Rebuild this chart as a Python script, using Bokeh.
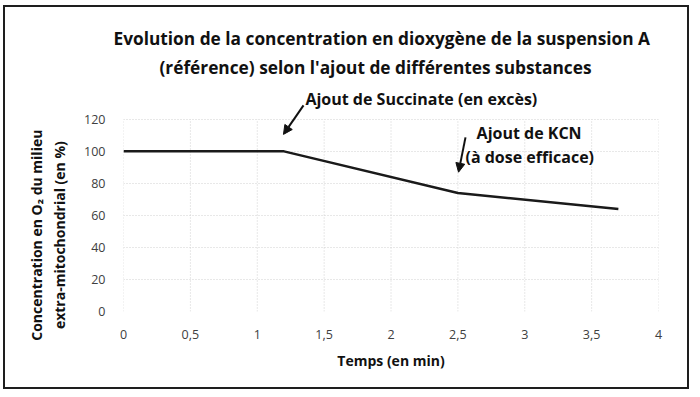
from bokeh.plotting import figure
from bokeh.models import Label, Arrow, NormalHead, FixedTicker, Range1d, Title
from bokeh.embed import file_html
from bokeh.resources import INLINE

# Data
temps = [0, 1.2, 2.5, 3.7]
concentration = [100, 100, 74, 64]
x_ticks = [0, 0.5, 1, 1.5, 2, 2.5, 3, 3.5, 4]
x_tick_labels = ["0", "0,5", "1", "1,5", "2", "2,5", "3", "3,5", "4"]
y_ticks = [0, 20, 40, 60, 80, 100, 120]
title_lines = ["Evolution de la concentration en dioxygène de la suspension A",
               "(référence) selon l'ajout de différentes substances"]
annot_succ = "Ajout de Succinate (en excès)"
annot_kcn = ["Ajout de KCN", "(à dose efficace)"]

FONT = "Open Sans"
NB = "\u00a0"
INK = "#111111"

p = figure(width=686, height=384, output_backend="svg", toolbar_location=None,
           x_range=Range1d(0, 4), y_range=Range1d(0, 143),
           min_border_left=118, min_border_right=33, min_border_top=75,
           min_border_bottom=80)
p.styles = {"border": "2px solid #1e1e1e", "margin-left": "3px", "margin-top": "5px"}
p.outline_line_color = None
p.background_fill_color = "white"
p.border_fill_color = "white"

p.xaxis.ticker = FixedTicker(ticks=x_ticks)
p.yaxis.ticker = FixedTicker(ticks=y_ticks)
p.xaxis.major_label_overrides = {t: l for t, l in zip(x_ticks, x_tick_labels)}
for ax in (p.xaxis, p.yaxis):
    ax.axis_line_color = None
    ax.major_tick_line_color = None
    ax.minor_tick_line_color = None
    ax.major_label_text_font = FONT
    ax.major_label_text_font_size = "12.5px"
    ax.major_label_text_color = "#404040"
    ax.axis_label_text_font = FONT
    ax.axis_label_text_font_style = "bold"
    ax.axis_label_text_font_size = "14px"
    ax.axis_label_text_color = INK
p.xaxis.major_label_standoff = 12
p.yaxis.major_label_standoff = 12
p.xaxis.axis_label = "Temps (en min)"
p.xaxis.axis_label_standoff = 9
p.yaxis.axis_label = ("Concentration en O\u2082 du milieu" + NB * 21 + "\n"
                      + "extra-mitochondrial (en %)" + NB * 21)
p.yaxis.axis_label_standoff = 12

# grid: horizontal from y ticks, vertical drawn only up to the top tick
p.xgrid.visible = False
p.ygrid.grid_line_color = "#d0d0d0"
p.ygrid.grid_line_dash = "1 2"
p.segment(x0=x_ticks, y0=[y_ticks[0]] * len(x_ticks), x1=x_ticks, y1=[y_ticks[-1]] * len(x_ticks),
          line_color="#d0d0d0", line_dash="1 2", line_width=1)

p.line(temps, concentration, line_color="#1a1a1a", line_width=2.5)

def lab(x, y, t, size, align="left"):
    return Label(x=x, y=y, text=t, text_align=align, text_baseline="middle",
                 text_font=FONT, text_font_style="bold", text_font_size=size, text_color=INK)

# Title (two lines)
p.add_layout(Title(text=title_lines[1], align="left", offset=36, text_font=FONT,
                   text_font_style="bold", text_font_size="17.3px", text_color=INK, standoff=8), "above")
p.add_layout(Title(text=title_lines[0], align="left", offset=-10, text_font=FONT,
                   text_font_style="bold", text_font_size="17.3px", text_color=INK, standoff=0), "above")

# Annotations
p.add_layout(lab(1.36, 133, annot_succ, "16px"))
p.add_layout(lab(2.64, 111.25, annot_kcn[0], "16px"))
p.add_layout(lab(2.557, 96.25, annot_kcn[1], "16px"))

p.add_layout(Arrow(x_start=1.346, y_start=128.75, x_end=1.196, y_end=110.6, line_width=2,
                   line_color=INK,
                   end=NormalHead(size=9, fill_color=INK, line_color=INK)))
p.add_layout(Arrow(x_start=2.557, y_start=108.75, x_end=2.505, y_end=87, line_width=2,
                   line_color=INK,
                   end=NormalHead(size=9, fill_color=INK, line_color=INK)))

open("out.html", "w").write(file_html(p, INLINE))
